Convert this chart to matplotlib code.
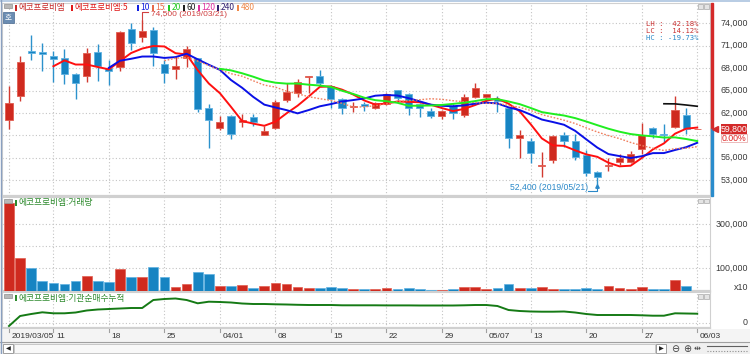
import matplotlib
matplotlib.use("Agg")
import matplotlib.pyplot as plt
import matplotlib.transforms as mtransforms
from matplotlib.patches import Rectangle
from matplotlib.lines import Line2D
import numpy as np
import pandas as pd

# ---- data ----
tick_idx = [0, 4, 9, 14, 19, 24, 29, 34, 39, 43, 47, 52, 57, 62]
tick_labels = ["2019/03/05", "11", "18", "25", "04/01", "08", "15", "22", "29",
               "05/07", "13", "20", "27", "06/03"]

open_ = [61050, 64300, 70300, 70100, 69650, 69400, 67200, 67000, 70100, 68050,
         68200, 73250, 72200, 73100, 68500, 67900, 69300, 69300, 62600, 60000,
         61600, 60750, 61400, 59050, 59950, 63750, 64700, 66750, 66950, 65600,
         63800, 62750, 63150, 62600, 63200, 65050, 64500, 63150, 62300, 61600,
         62950, 61700, 64150, 64100, 63800, 62600, 58700, 58300, 54950, 55700,
         59050, 58300, 56350, 54050, 54900, 55450, 55400, 57150, 59950, 59200,
         60050, 61700, 59800]
high = [65600, 69600, 72500, 71400, 70300, 70550, 67300, 70700, 71200, 69100,
        73000, 74000, 74500, 73550, 69100, 69500, 71000, 69400, 63200, 61600,
        61700, 61800, 61800, 60250, 63700, 65950, 66550, 66950, 67750, 65700,
        64000, 63500, 63500, 63400, 64700, 65100, 64700, 63300, 62600, 62450,
        63200, 64500, 65950, 64600, 64200, 62800, 59700, 58700, 56800, 59000,
        59500, 59150, 57050, 54200, 55900, 56500, 56950, 60700, 60050, 60500,
        64250, 62700, 59800]
low = [59900, 63600, 69100, 67600, 66100, 65900, 63800, 66100, 66300, 65800,
       67650, 70400, 71450, 68300, 66050, 66550, 68200, 62150, 57250, 59750,
       58500, 60150, 60200, 59000, 59800, 63500, 64150, 64700, 65600, 62600,
       61850, 62150, 62300, 62500, 63000, 63700, 61700, 61400, 61300, 61250,
       61200, 61500, 64000, 63300, 62150, 57350, 55900, 55350, 53450, 55250,
       57500, 55700, 53550, 52400, 54250, 55050, 55300, 56450, 58700, 58150,
       59950, 59200, 59800]
close = [63300, 68800, 70000, 69950, 69200, 67200, 66050, 70000, 68300, 67600,
         72800, 71400, 73000, 70000, 67300, 68300, 70550, 62500, 61050, 60800,
         59150, 61050, 60800, 59600, 63500, 64750, 66200, 66950, 66050, 63800,
         62600, 62950, 62950, 63300, 64500, 63950, 62700, 62700, 61600, 62300,
         61950, 64150, 65300, 64500, 63650, 58600, 59050, 56600, 55050, 58950,
         58300, 56050, 53900, 53400, 55000, 55900, 56450, 59050, 59150, 59050,
         62400, 59800, 59800]
# volume in units of 10 shares
volume = [394000, 149000, 100000, 45000, 36000, 30000, 44000, 66000, 45000, 37000,
          96000, 60000, 63000, 108000, 63000, 16000, 29000, 83000, 75000, 20000,
          23000, 26000, 11000, 23000, 35000, 30000, 18000, 14000, 11000, 17000,
          11000, 7000, 8000, 8000, 11000, 9000, 11000, 8000, 5000, 5000,
          9000, 15000, 18000, 9000, 11000, 32000, 12000, 13000, 17000, 9000,
          6000, 9000, 12000, 9000, 23000, 11000, 8000, 17000, 8000, 9000,
          47000, 23000, 0]
inst_cum = [-3300, 6700, 8700, 10400, 9400, 9400, 10200, 12200, 13200, 13700,
            14200, 14700, 14700, 22700, 23700, 24200, 22700, 19400, 21000, 20700,
            20200, 19200, 18700, 18700, 18400, 18200, 17900, 17700, 17700, 17700,
            17400, 17400, 17400, 17400, 17300, 17300, 17300, 17200, 17200, 17200,
            17200, 17400, 17700, 17700, 16700, 12700, 11700, 11200, 11000, 11000,
            11200, 10200, 8700, 7700, 7700, 7700, 7700, 7400, 7000, 7000,
            9400, 9200, 9000]

price_labels = [74000, 71000, 68000, 65000, 62000, 56000, 53000]
price_grid = [53000, 56000, 59000, 62000, 65000, 68000, 71000, 74000]
vol_grid = [100000, 200000, 300000]
vol_labels = [300000, 100000]

ma_periods = [5, 10, 15, 20, 60]
ma_colors = ["#ff1010", "#0a10e6", "#f08060", "#20ee20", "#101010"]
ma_styles = ["-", "-", (0, (1.2, 1.2)), "-", "-"]
ma_widths = [1.4, 1.4, 1.0, 1.4, 1.2]

legend_items = [("에코프로비엠", "#c82828", 15), ("에코프로비엠:5", "#e01818", 71),
                ("10", "#1020e0", 137), ("15", "#e86a48", 152), ("20", "#22cc22", 168),
                ("60", "#202020", 183), ("120", "#e030a0", 198), ("240", "#302070", 217),
                ("480", "#f08848", 237)]

UP, UP_EDGE, UP_WICK = "#cf2a1f", "#e25d50", "#d23a30"
DN, DN_EDGE, DN_WICK = "#1784c2", "#5fb2e2", "#2c92cc"
GRID = "#c4c4c4"
KR = ["Noto Sans CJK KR", "DejaVu Sans"]
NUM = "Liberation Sans"

W, H = 750, 354
fig = plt.figure(figsize=(7.5, 3.54), dpi=100)


def box(x0, y0, x1, y1):
    return [x0 / W, 1 - y1 / H, (x1 - x0) / W, (y1 - y0) / H]


def ftext(x, y, s, **kw):
    kw.setdefault("va", "center")
    fig.text(x / W, 1 - y / H, s, **kw)


def frect(x0, y0, x1, y1, **kw):
    fig.patches.append(Rectangle((x0 / W, 1 - y1 / H), (x1 - x0) / W, (y1 - y0) / H,
                                 transform=fig.transFigure, figure=fig, **kw))


o = np.array(open_, float)
h = np.array(high, float)
l = np.array(low, float)
c = np.array(close, float)
n = len(c)
x = np.arange(n)
up = c >= o

XL = (-0.63, 63.15)
ax_p = fig.add_axes(box(2, 3, 710, 196))
ax_v = fig.add_axes(box(2, 197, 710, 291))
ax_i = fig.add_axes(box(2, 292, 710, 328))

for ax in (ax_p, ax_v, ax_i):
    ax.set_xlim(*XL)
    ax.set_xticks(tick_idx)
    ax.tick_params(length=0, labelbottom=False, labelleft=False)
    ax.grid(axis="both", color=GRID, linestyle=(0, (1, 2)), linewidth=0.8)
    ax.set_axisbelow(True)
    for s in ax.spines.values():
        s.set_color("#d0d0d0")
        s.set_linewidth(0.8)
    ax.spines["bottom"].set_linewidth(1.6)

# ---- price panel ----
ax_p.set_ylim(50875, 76720)
ax_p.set_yticks(price_grid)
body_lo = np.minimum(o, c)
body_h = np.maximum(np.abs(c - o), 70)
ax_p.vlines(x, l, h, colors=np.where(up, UP_WICK, DN_WICK), linewidth=1.0, zorder=2)
ax_p.bar(x, body_h, bottom=body_lo, width=0.64, color=np.where(up, UP, DN),
         edgecolor=np.where(up, UP_EDGE, DN_EDGE), linewidth=0.6, zorder=3)

cs = pd.Series(c)
for p, col, ls, lw in zip(ma_periods, ma_colors, ma_styles, ma_widths):
    ax_p.plot(x, cs.rolling(p).mean(), color=col, linestyle=ls, linewidth=lw, zorder=4)

# high / low markers
i_hi = int(np.argmax(h))
i_lo = int(np.argmin(l))
ax_p.plot([i_hi, i_hi, i_hi + 0.55], [h[i_hi], 75450, 75450], color="#d04040",
          linewidth=0.8, zorder=5, clip_on=False)
ftext(151, 14.3, "74,500 (2019/03/21)", color="#d04040", fontsize=6.0, family=NUM)
ax_p.plot([i_lo - 0.85, i_lo, i_lo], [51480, 51480, 52150], color="#2a88c8",
          linewidth=0.8, zorder=5)
ax_p.plot([i_lo], [52150], marker="^", markersize=2.5, color="#2a88c8", zorder=5)
ftext(588, 187.5, "52,400 (2019/05/21)", color="#2a88c8", fontsize=6.2, family=NUM,
      ha="right")

# right axis labels
blend_p = mtransforms.blended_transform_factory(ax_p.transAxes, ax_p.transData)
for p in price_labels:
    ax_p.text((748 - 2) / 708, p, f"{p:,}", transform=blend_p, ha="right", va="center",
              fontsize=6.4, family=NUM, color="#3a3a3a", clip_on=False)

cur = c[-1]
ax_p.add_patch(Rectangle(((710.5 - 2) / 708, cur), 2.5 / 708, 76720 - cur, transform=blend_p,
                         color="#d42a2a", clip_on=False, zorder=6))
ax_p.add_patch(Rectangle(((710.5 - 2) / 708, 50875), 2.5 / 708, cur - 50875, transform=blend_p,
                         color="#2a8ccc", clip_on=False, zorder=6))
ax_p.plot([(715 - 2) / 708], [cur], marker="<", markersize=4, color="#d42a2a",
          transform=blend_p, clip_on=False, zorder=6)
frect(720.5, 124.5, 747, 133.5, facecolor="#d42a2a", edgecolor="none")
ftext(733.7, 129.2, f"{int(cur):,}", color="white", fontsize=6.3, family=NUM, ha="center")
frect(721, 134, 747, 142, facecolor="white", edgecolor="#e8b0b0", linewidth=0.6)
ftext(734, 138.2, "0.00%", color="#e02020", fontsize=6.3, family=NUM, ha="center")

# LH / LC / HC
ftext(698, 23.5, "LH :  42.18%", color="#c83030", fontsize=5.2, family="DejaVu Sans Mono", ha="right")
ftext(698, 30.8, "LC :  14.12%", color="#c83030", fontsize=5.2, family="DejaVu Sans Mono", ha="right")
ftext(698, 38.1, "HC : -19.73%", color="#2a88c8", fontsize=5.2, family="DejaVu Sans Mono", ha="right")

# legend
for label, col, x0 in legend_items:
    frect(x0, 4.5, x0 + 2, 10.5, facecolor=col, edgecolor="none")
    ftext(x0 + 3.5, 7.6, label, color=col, fontsize=6.1, family=KR)
frect(4, 4, 12, 8, facecolor="#b8b8b8", edgecolor="#909090", linewidth=0.5)
frect(3, 12, 14, 22.5, facecolor="#6a8cb2", edgecolor="#4a6a90", linewidth=0.5)
ftext(8.5, 17.3, "호", color="white", fontsize=5.5, family=KR, ha="center")

# ---- volume panel ----
ax_v.set_ylim(-1400, 422000)
ax_v.set_yticks(vol_grid)
ax_v.bar(x, volume, width=0.88, color=np.where(up, UP, DN),
         edgecolor=np.where(up, UP_EDGE, DN_EDGE), linewidth=0.5, zorder=3)
blend_v = mtransforms.blended_transform_factory(ax_v.transAxes, ax_v.transData)
for v in vol_labels:
    ax_v.text((748 - 2) / 708, v, f"{v:,}", transform=blend_v, ha="right", va="center",
              fontsize=6.4, family=NUM, color="#3a3a3a", clip_on=False)
ftext(748, 287.5, "x10", ha="right", fontsize=6.4, family=NUM, color="#3a3a3a")
frect(4, 199, 12, 203, facecolor="#b8b8b8", edgecolor="#909090", linewidth=0.5)
frect(15, 199.5, 17, 205.5, facecolor="#2e8b2e", edgecolor="none")
ftext(18.5, 202.8, "에코프로비엠:거래량", color="#2e8b2e", fontsize=6.3, family=KR)

# ---- institution cumulative net buying panel ----
ax_i.set_ylim(-5300, 30700)
ax_i.set_yticks([0])
ax_i.plot(np.arange(len(inst_cum)), inst_cum, color="#157a15", linewidth=1.4, zorder=3)
ftext(748, 322.7, "0", ha="right", fontsize=6.4, family=NUM, color="#3a3a3a")
frect(4, 293.5, 12, 297.5, facecolor="#b8b8b8", edgecolor="#909090", linewidth=0.5)
frect(15, 295, 17, 301, facecolor="#2e8b2e", edgecolor="none")
ftext(18.5, 298.3, "에코프로비엠:기관순매수누적", color="#2e8b2e", fontsize=6.3, family=KR)

# panel corner icons
for yy in (4, 199, 294):
    frect(698, yy, 702.5, yy + 4.5, facecolor="#e4e4e4", edgecolor="#a8a8a8", linewidth=0.5)
    frect(704, yy, 708.5, yy + 4.5, facecolor="#e4e4e4", edgecolor="#a8a8a8", linewidth=0.5)

# ---- date row and scrollbar ----
frect(0, 329, 750, 342, facecolor="#f4f4f4", edgecolor="none")
fig.lines.append(Line2D([0, 1], [1 - 342 / H] * 2, transform=fig.transFigure,
                        color="#a0a0a0", linewidth=0.8))
for ti, lab in zip(tick_idx, tick_labels):
    px = 2 + (ti - XL[0]) / (XL[1] - XL[0]) * 708
    fig.lines.append(Line2D([px / W] * 2, [1 - 329 / H, 1 - 332 / H],
                            transform=fig.transFigure, color="#a0a0a0", linewidth=0.8))
    ftext(px + 2.5, 336, lab, fontsize=6.0, family=NUM, color="#333333")

frect(0, 343, 750, 354, facecolor="#f0f0f0", edgecolor="none")
frect(14, 344, 655, 353, facecolor="#f8f8f8", edgecolor="#c0c0c0", linewidth=0.6)
frect(3, 344, 13, 353, facecolor="white", edgecolor="#909090", linewidth=0.6)
ftext(8, 348.7, "◀", fontsize=4.5, ha="center", color="#202020", family="DejaVu Sans")
frect(656, 344, 666, 353, facecolor="white", edgecolor="#909090", linewidth=0.6)
ftext(661, 348.7, "▶", fontsize=4.5, ha="center", color="#202020", family="DejaVu Sans")
ftext(675, 348.5, "⊖", fontsize=7, ha="center", color="#404040", family="DejaVu Sans")
ftext(687, 348.5, "⊕", fontsize=7, ha="center", color="#404040", family="DejaVu Sans")
ftext(697, 348.5, "⇹", fontsize=6, ha="center", color="#404040", family="DejaVu Sans")
fig.lines.append(Line2D([707 / W, 747 / W], [1 - 346 / H] * 2, transform=fig.transFigure,
                        color="#606060", linewidth=0.8))
fig.lines.append(Line2D([707 / W, 747 / W], [1 - 351 / H] * 2, transform=fig.transFigure,
                        color="#909090", linewidth=0.8, linestyle=(0, (1, 1.5))))

# window frame
frect(0, 0, 750, 2, facecolor="#b9cde4", edgecolor="none")
fig.lines.append(Line2D([1 / W] * 2, [0, 1], transform=fig.transFigure,
                        color="#8aa0c0", linewidth=1.0))

fig.savefig("out.png", dpi=100)
